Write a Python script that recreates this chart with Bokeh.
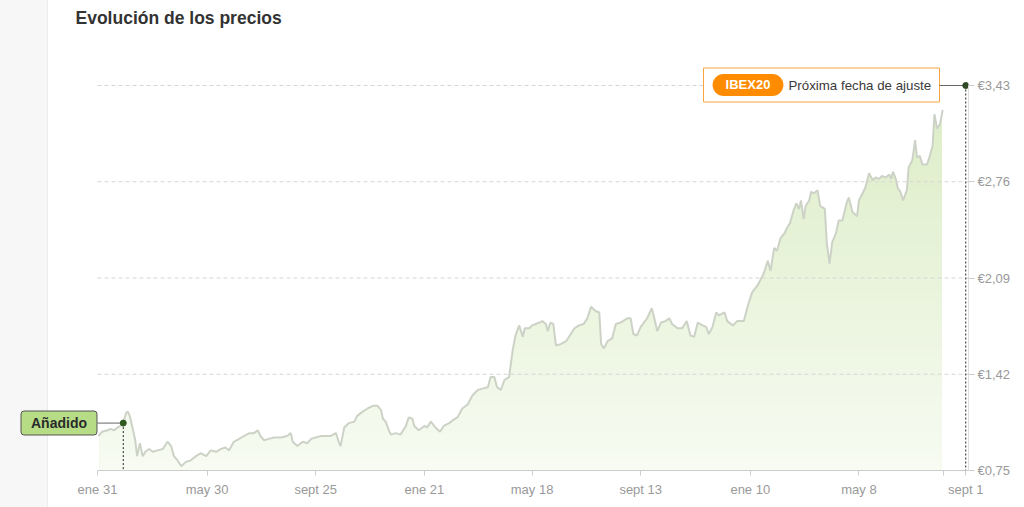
from bokeh.plotting import figure
from bokeh.models import Range1d, FixedTicker, Label
from bokeh.embed import file_html
from bokeh.resources import INLINE

# ---------------- data (days since "ene 31", price in EUR) ----------------
days = [
    1, 5, 11, 14, 18, 22, 25, 28, 31, 33,
    35, 38, 41, 43, 46, 49, 52, 56, 60, 65,
    71, 76, 80, 83, 87, 91, 96, 101, 107, 112,
    118, 123, 129, 134, 139, 143, 148, 154, 159, 165,
    170, 174, 177, 181, 186, 192, 199, 206, 210, 212,
    217, 223, 228, 232, 237, 243, 248, 253, 259, 262,
    264, 268, 273, 279, 282, 288, 293, 299, 304, 308,
    310, 313, 317, 319, 324, 329, 335, 338, 342, 344,
    349, 355, 358, 362, 367, 372, 376, 382, 386, 391,
    396, 402, 407, 413, 418, 424, 427, 431, 434, 438,
    442, 447, 451, 454, 458, 462, 464, 469, 472, 476,
    480, 483, 487, 489, 492, 495, 498, 503, 509, 514,
    518, 523, 528, 532, 536, 541, 545, 547, 550, 554,
    559, 563, 568, 576, 579, 582, 586, 590, 597, 602,
    604, 608, 612, 617, 621, 624, 630, 635, 640, 644,
    648, 652, 657, 661, 664, 668, 672, 675, 681, 684,
    690, 695, 702, 706, 711, 717, 722, 724, 728, 731,
    735, 738, 742, 746, 749, 752, 756, 759, 762, 764,
    767, 769, 773, 775, 778, 782, 785, 788, 790, 792,
    795, 798, 802, 805, 809, 814, 816, 820, 825, 827,
    831, 834, 838, 842, 845, 849, 852, 856, 860, 862,
    864, 867, 869, 872, 875, 879, 881, 885, 888, 890,
    893, 896, 901, 904, 907, 909, 912, 915, 918,
]
prices = [
    0.99, 1.02, 1.03, 1.04, 1.03, 1.05, 1.06, 1.08, 1.15, 1.16,
    1.13, 1.05, 0.96, 0.85, 0.94, 0.85, 0.88, 0.90, 0.88, 0.89,
    0.90, 0.95, 0.92, 0.85, 0.82, 0.78, 0.81, 0.82, 0.85, 0.87,
    0.85, 0.89, 0.88, 0.90, 0.91, 0.89, 0.95, 0.97, 0.99, 1.01,
    1.01, 1.03, 0.99, 0.96, 0.97, 0.98, 0.98, 0.99, 1.01, 0.95,
    0.92, 0.95, 0.94, 0.97, 0.98, 0.99, 0.99, 0.99, 1.01, 0.95,
    0.92, 1.05, 1.08, 1.09, 1.13, 1.16, 1.18, 1.20, 1.20, 1.17,
    1.11, 1.09, 1.02, 1.00, 1.01, 1.00, 1.06, 1.12, 1.11, 1.06,
    1.03, 1.06, 1.05, 1.09, 1.05, 1.02, 1.06, 1.08, 1.10, 1.12,
    1.18, 1.21, 1.27, 1.31, 1.32, 1.33, 1.40, 1.40, 1.33, 1.31,
    1.38, 1.40, 1.59, 1.69, 1.76, 1.68, 1.74, 1.74, 1.76, 1.77,
    1.78, 1.79, 1.77, 1.72, 1.78, 1.77, 1.62, 1.63, 1.65, 1.70,
    1.74, 1.76, 1.77, 1.81, 1.89, 1.86, 1.85, 1.63, 1.60, 1.65,
    1.67, 1.77, 1.78, 1.81, 1.81, 1.70, 1.69, 1.75, 1.81, 1.88,
    1.83, 1.72, 1.78, 1.79, 1.81, 1.77, 1.74, 1.74, 1.79, 1.69,
    1.68, 1.78, 1.76, 1.75, 1.70, 1.75, 1.85, 1.83, 1.85, 1.79,
    1.76, 1.79, 1.79, 1.89, 1.99, 2.04, 2.10, 2.13, 2.21, 2.14,
    2.30, 2.28, 2.37, 2.40, 2.44, 2.47, 2.56, 2.61, 2.57, 2.63,
    2.50, 2.59, 2.63, 2.69, 2.68, 2.70, 2.59, 2.58, 2.57, 2.34,
    2.19, 2.34, 2.40, 2.49, 2.49, 2.62, 2.65, 2.55, 2.52, 2.63,
    2.68, 2.72, 2.82, 2.77, 2.79, 2.78, 2.80, 2.79, 2.81, 2.78,
    2.83, 2.78, 2.72, 2.69, 2.63, 2.70, 2.86, 2.91, 3.05, 2.93,
    2.94, 2.88, 2.88, 2.94, 3.01, 3.23, 3.13, 3.16, 3.26,
]

x_tick_days = [0, 119, 237, 355, 472, 590, 709, 827, 943]
x_tick_labels = ["ene 31", "may 30", "sept 25", "ene 21", "may 18",
                 "sept 13", "ene 10", "may 8", "sept 1"]
last_data_tick = [919]

y_ticks = [0.75, 1.42, 2.09, 2.76, 3.43]
y_tick_labels = ["€0,75", "€1,42", "€2,09", "€2,76", "€3,43"]

added_day, added_price = 28, 1.08          # "Añadido"
next_day, next_price = 943, 3.43           # "Próxima fecha de ajuste"

title_text = "Evolución de los precios"
added_text = "Añadido"
index_text = "IBEX20"
next_text = "Próxima fecha de ajuste"

# ---------------- layout (page pixels) ----------------
W, H = 1024, 507
FRAME_R = 968            # right edge of plotting frame
FRAME_B = 470            # bottom edge of plotting frame (price axis 0,75)
AXIS_L = 97              # where the date axis starts (day 0)
X_DATA_END = 946
PX_PER_DAY = (FRAME_R - AXIS_L) / X_DATA_END
X_START = -AXIS_L / PX_PER_DAY
Y0 = y_ticks[0]
PX_PER_EUR = 385.0 / (y_ticks[-1] - y_ticks[0])
Y1 = Y0 + FRAME_B / PX_PER_EUR


def px_x(page_x):
    return X_START + page_x / PX_PER_DAY


def px_y(page_y):
    return Y0 + (FRAME_B - page_y) / PX_PER_EUR


FONT = "Liberation Sans"

p = figure(width=W, height=H, output_backend="svg", toolbar_location=None,
           x_range=Range1d(X_START, X_DATA_END), y_range=Range1d(Y0, Y1),
           y_axis_location="right",
           min_border_left=0, min_border_right=W - FRAME_R,
           min_border_top=0, min_border_bottom=H - FRAME_B)
p.outline_line_color = None
p.background_fill_color = None
p.border_fill_color = None
p.styles = {"background": "linear-gradient(to right, #f7f7f7 0px, #f7f7f7 47px, "
                          "#ececec 47px, #ececec 48px, #ffffff 48px)"}
p.xgrid.visible = False
p.ygrid.visible = False

# area under the price line with a vertical gradient (nested bands + white mask)
N = 40
grad_top = 3.35
c_top = (220, 237, 198)
c_bot = (247, 251, 242)
band_tops, band_cols = [], []
for k in range(N, 0, -1):
    hi = Y0 + (grad_top - Y0) * k / N
    t = (k - 0.5) / N
    rgb = tuple(int(round(c_bot[i] + (c_top[i] - c_bot[i]) * t)) for i in range(3))
    band_tops.append(hi)
    band_cols.append("#%02x%02x%02x" % rgb)
inset = 1.2 / PX_PER_DAY
p.quad(left=[days[0] + inset] * N, right=[days[-1] - inset] * N, bottom=[Y0] * N,
       top=band_tops, fill_color=band_cols, line_color=None)
p.varea(x=days, y1=prices, y2=grad_top, fill_color="white")

# dashed grid lines over the area
p.segment(x0=[0] * 4, x1=[X_DATA_END] * 4, y0=y_ticks[1:], y1=y_ticks[1:],
          line_color="#d6d6d6", line_width=1, line_dash="4 3")

# price line
p.line(x=days, y=prices, line_color="#cdd2c7", line_width=2)

# "Añadido" marker
p.line(x=[px_x(97), added_day], y=[added_price, added_price], line_color="#666666", line_width=1)
p.line(x=[added_day, added_day], y=[added_price, Y0], line_color="#222222", line_width=1, line_dash="2 2")
p.scatter(x=[added_day], y=[added_price], size=6, marker="circle",
          fill_color="#2f5a1e", line_color="#2f5a1e")

# next adjustment marker
p.quad(left=[px_x(703)], right=[px_x(939)], bottom=[px_y(101.5)], top=[px_y(67.5)],
       fill_color="white", line_color="#f8a640", line_width=1)
p.line(x=[px_x(939), next_day], y=[next_price, next_price], line_color="#666666", line_width=1)
p.line(x=[next_day, next_day], y=[next_price, Y0], line_color="#222222", line_width=1, line_dash="2 2")
p.scatter(x=[next_day], y=[next_price], size=6, marker="circle",
          fill_color="#2f4a25", line_color="#2f4a25")

# axes
xa = p.xaxis[0]
xa.ticker = FixedTicker(ticks=x_tick_days, minor_ticks=last_data_tick)
xa.major_label_overrides = {d: t for d, t in zip(x_tick_days, x_tick_labels)}
xa.bounds = (0, X_DATA_END)
xa.axis_line_color = "#cccccc"
xa.major_tick_line_color = "#cccccc"
xa.minor_tick_line_color = "#cccccc"
xa.major_tick_out = 5
xa.major_tick_in = 0
xa.minor_tick_out = 5
xa.minor_tick_in = 0
xa.major_label_standoff = 6
xa.major_label_text_color = "#999999"
xa.major_label_text_font = FONT
xa.major_label_text_font_size = "13px"

ya = p.yaxis[0]
ya.ticker = FixedTicker(ticks=y_ticks)
ya.major_label_overrides = {v: t for v, t in zip(y_ticks, y_tick_labels)}
ya.bounds = (y_ticks[0], y_ticks[-1])
ya.axis_line_color = "#dddddd"
ya.major_tick_line_color = "#cccccc"
ya.minor_tick_line_color = None
ya.major_tick_out = 6
ya.major_tick_in = 0
ya.major_label_standoff = 3
ya.major_label_text_color = "#999999"
ya.major_label_text_font = FONT
ya.major_label_text_font_size = "13px"

# texts
p.add_layout(Label(x=px_x(75), y=px_y(17.5), text=title_text,
                   text_font=FONT, text_font_style="bold", text_font_size="17.5px",
                   text_color="#333333", text_align="left", text_baseline="alphabetic"))
p.add_layout(Label(x=px_x(58.5), y=px_y(422.5), text=added_text,
                   text_font=FONT, text_font_style="bold", text_font_size="14px",
                   text_color="#2b2b2b", text_align="center", text_baseline="middle",
                   background_fill_color="#b6dc86", border_line_color="#555555",
                   border_line_width=1, border_radius=3,
                   padding=dict(left=10, right=10, top=4, bottom=4)))
p.add_layout(Label(x=px_x(747.5), y=px_y(84.5), text=index_text,
                   text_font=FONT, text_font_style="bold", text_font_size="13px",
                   text_color="white", text_align="center", text_baseline="middle",
                   background_fill_color="#ff8c00", border_radius=11,
                   padding=dict(left=13, right=13, top=3, bottom=4)))
p.add_layout(Label(x=px_x(788), y=px_y(85), text=next_text,
                   text_font=FONT, text_font_size="13.3px",
                   text_color="#3a3a3a", text_align="left", text_baseline="middle"))

open("out.html", "w").write(file_html(p, INLINE))
